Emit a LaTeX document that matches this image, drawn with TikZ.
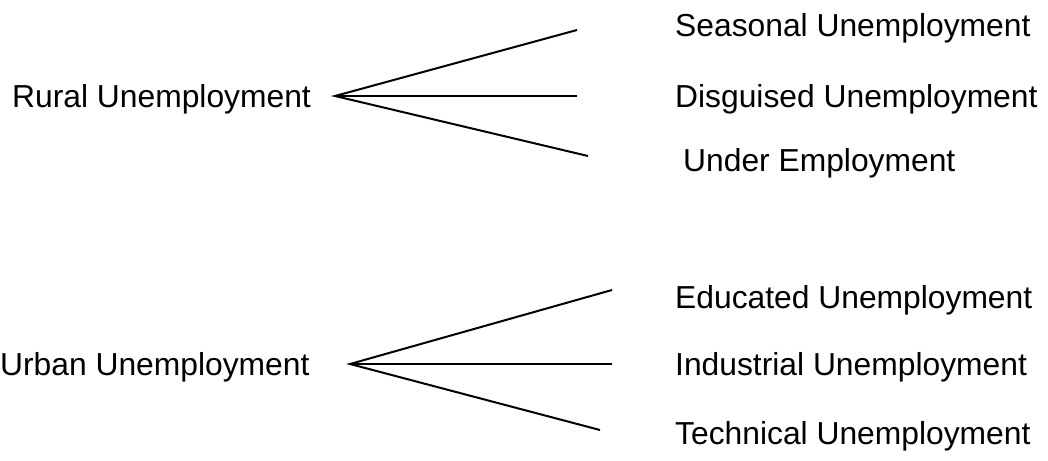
\documentclass[tikz,border=0pt]{standalone}
\usepackage{fontspec}
\setmainfont{Liberation Sans}
\begin{document}
\begin{tikzpicture}[x=1pt,y=-1pt,
  lbl/.style={anchor=base west,inner sep=0pt,font=\fontsize{31.8pt}{38pt}\selectfont},
  branch/.style={draw=black,line width=2pt}]
\useasboundingbox (0,0) rectangle (1048,460);
% Rural group
\node[lbl] (rural) at (12,107) {Rural Unemployment};
\coordinate (ra) at (335,96);
\coordinate (r1) at (577,30);
\coordinate (r2) at (577,96);
\coordinate (r3) at (588,156);
\node[lbl] (seasonal) at (675,37) {Seasonal Unemployment};
\node[lbl] (disguised) at (675,107) {Disguised Unemployment};
\node[lbl] (under) at (683,171) {Under Employment};
\draw[branch] (r1) -- (ra) -- (r3);
\draw[branch] (ra) -- (r2);
% Urban group
\node[lbl] (urban) at (0,375) {Urban Unemployment};
\coordinate (ua) at (350,364);
\coordinate (u1) at (612,290);
\coordinate (u2) at (612,364);
\coordinate (u3) at (600,430);
\node[lbl] (educated) at (675,308) {Educated Unemployment};
\node[lbl] (industrial) at (675,375) {Industrial Unemployment};
\node[lbl] (technical) at (675,444) {Technical Unemployment};
\draw[branch] (u1) -- (ua) -- (u3);
\draw[branch] (ua) -- (u2);
\end{tikzpicture}
\end{document}
